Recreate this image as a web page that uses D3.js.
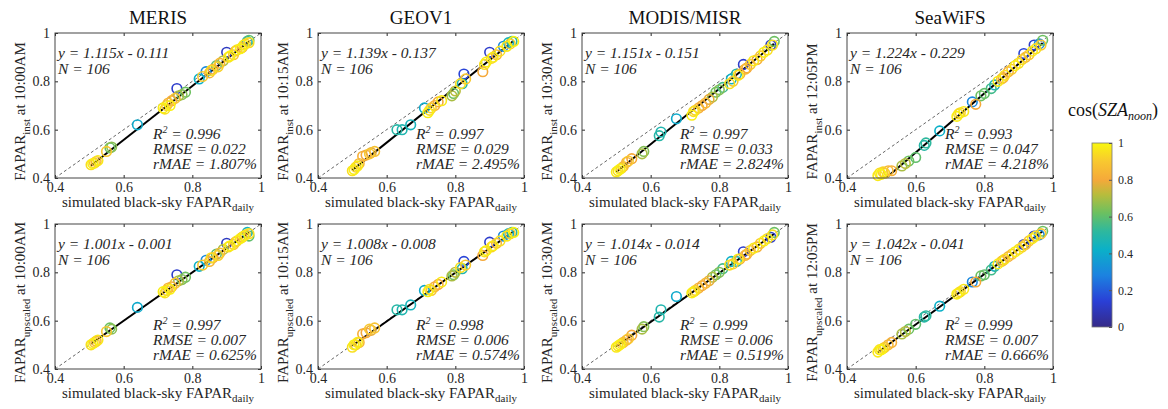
<!DOCTYPE html>
<html>
<head>
<meta charset="utf-8">
<script src="https://cdn.jsdelivr.net/npm/d3@7"></script>
<style>
  body { margin: 0; background: #fff; }
  svg { display: block; }
  svg text { font-family: "Liberation Serif", "DejaVu Serif", serif; }
</style>
</head>
<body>
<svg id="chart" width="1168" height="409"></svg>
<script>
"use strict";

// products and times
const products = ["MERIS", "GEOV1", "MODIS/MISR", "SeaWiFS"];
const passTimes = ["10:00AM", "10:15AM", "10:30AM", "12:05PM"];
const axisTicks = [0.4, 0.6, 0.8, 1];
const cbTicks = [0, 0.2, 0.4, 0.6, 0.8, 1];

// fit statistics, top row (inst) and bottom row (upscaled)
const instSlope = [1.115, 1.139, 1.151, 1.224];
const instIntercept = [-0.111, -0.137, -0.151, -0.229];
const instR2 = ["0.996", "0.997", "0.997", "0.993"];
const instRmse = ["0.022", "0.029", "0.033", "0.047"];
const instRmae = ["1.807", "2.495", "2.824", "4.218"];
const upSlope = [1.001, 1.008, 1.014, 1.042];
const upIntercept = [-0.001, -0.008, -0.014, -0.041];
const upR2 = ["0.997", "0.998", "0.999", "0.999"];
const upRmse = ["0.007", "0.006", "0.006", "0.007"];
const upRmae = ["0.625", "0.574", "0.519", "0.666"];
const sampleN = 106;

// MERIS
const merisX    = [0.505,0.51,0.515,0.52,0.525,0.55,0.56,0.565,0.64,0.715,0.72,0.725,0.73,0.735,0.74,0.75,0.755,0.76,0.77,0.78,0.82,0.83,0.84,0.85,0.855,0.86,0.87,0.875,0.88,0.89,0.90,0.905,0.91,0.92,0.925,0.93,0.94,0.945,0.95,0.955,0.96,0.965,0.965];
const merisCos  = [0.95,0.98,0.9,0.85,0.97,0.9,0.62,0.66,0.4,0.98,0.95,0.9,0.85,0.99,0.8,0.88,0.12,0.7,0.65,0.62,0.42,0.9,0.3,0.85,0.95,0.8,0.6,0.92,0.85,0.7,0.1,0.95,0.98,0.9,0.85,0.95,0.99,0.8,0.97,0.9,0.45,0.95,0.6];
const merisInst = [0.455,0.46,0.462,0.468,0.472,0.51,0.525,0.528,0.62,0.69,0.685,0.70,0.71,0.70,0.72,0.73,0.77,0.74,0.745,0.755,0.81,0.82,0.84,0.835,0.845,0.85,0.865,0.86,0.875,0.885,0.92,0.90,0.905,0.91,0.925,0.93,0.935,0.94,0.95,0.955,0.965,0.96,0.97];
const merisUp   = [0.50,0.505,0.51,0.515,0.52,0.555,0.57,0.565,0.655,0.72,0.715,0.725,0.735,0.73,0.74,0.755,0.79,0.765,0.77,0.78,0.825,0.83,0.85,0.845,0.86,0.86,0.875,0.87,0.88,0.895,0.92,0.905,0.91,0.915,0.925,0.93,0.94,0.945,0.95,0.955,0.965,0.96,0.95];

// GEOV1
const geovX    = [0.50,0.505,0.51,0.515,0.52,0.53,0.54,0.55,0.555,0.565,0.63,0.645,0.67,0.71,0.72,0.725,0.73,0.74,0.75,0.76,0.79,0.795,0.80,0.815,0.82,0.825,0.83,0.88,0.885,0.89,0.90,0.905,0.91,0.92,0.93,0.94,0.95,0.955,0.96,0.965,0.97];
const geovCos  = [0.95,0.98,0.92,0.97,0.85,0.82,0.8,0.9,0.78,0.88,0.5,0.48,0.45,0.4,0.98,0.95,0.9,0.82,0.8,0.97,0.7,0.62,0.72,0.95,0.48,0.15,0.9,0.8,0.95,0.98,0.12,0.92,0.97,0.85,0.95,0.3,0.97,0.45,0.9,0.5,0.99];
const geovInst = [0.43,0.435,0.445,0.45,0.46,0.49,0.495,0.50,0.505,0.51,0.60,0.60,0.62,0.69,0.67,0.68,0.69,0.70,0.715,0.72,0.74,0.75,0.76,0.79,0.79,0.83,0.81,0.84,0.87,0.88,0.92,0.895,0.90,0.91,0.925,0.945,0.945,0.96,0.955,0.965,0.965];
const geovUp   = [0.49,0.50,0.50,0.51,0.51,0.545,0.55,0.565,0.56,0.57,0.645,0.645,0.665,0.725,0.72,0.73,0.725,0.74,0.75,0.76,0.785,0.79,0.80,0.82,0.815,0.845,0.83,0.87,0.885,0.89,0.925,0.905,0.91,0.92,0.93,0.95,0.95,0.96,0.96,0.965,0.965];

// MODIS/MISR
const modisX    = [0.50,0.505,0.51,0.515,0.52,0.53,0.535,0.545,0.575,0.58,0.625,0.63,0.675,0.72,0.725,0.73,0.74,0.75,0.76,0.77,0.78,0.79,0.80,0.81,0.83,0.835,0.84,0.85,0.855,0.86,0.87,0.875,0.88,0.89,0.90,0.91,0.92,0.93,0.94,0.95,0.955,0.96];
const modisCos  = [0.97,0.95,0.99,0.92,0.85,0.82,0.9,0.8,0.7,0.65,0.5,0.48,0.4,0.98,0.95,0.92,0.82,0.8,0.85,0.78,0.7,0.62,0.65,0.55,0.95,0.42,0.9,0.5,0.97,0.82,0.12,0.85,0.8,0.9,0.97,0.82,0.9,0.98,0.95,0.12,0.95,0.62];
const modisInst = [0.425,0.43,0.436,0.44,0.447,0.465,0.47,0.48,0.50,0.51,0.575,0.59,0.645,0.66,0.675,0.68,0.69,0.70,0.71,0.725,0.735,0.755,0.765,0.775,0.79,0.81,0.80,0.83,0.825,0.83,0.87,0.85,0.855,0.87,0.885,0.89,0.905,0.92,0.93,0.95,0.95,0.965];
const modisUp   = [0.49,0.495,0.50,0.505,0.51,0.52,0.525,0.54,0.565,0.575,0.615,0.645,0.70,0.715,0.72,0.725,0.735,0.745,0.755,0.765,0.78,0.79,0.80,0.815,0.83,0.845,0.835,0.845,0.855,0.855,0.885,0.87,0.875,0.89,0.90,0.905,0.92,0.93,0.94,0.945,0.955,0.965];

// SeaWiFS
const seawifsX    = [0.49,0.495,0.50,0.505,0.51,0.52,0.53,0.56,0.57,0.58,0.60,0.625,0.63,0.67,0.72,0.725,0.73,0.74,0.765,0.775,0.79,0.80,0.82,0.83,0.84,0.85,0.855,0.86,0.87,0.88,0.89,0.90,0.91,0.915,0.92,0.93,0.94,0.945,0.95,0.96,0.965,0.97];
const seawifsCos  = [0.97,0.95,0.99,0.92,0.9,0.85,0.82,0.7,0.72,0.62,0.6,0.5,0.52,0.42,0.98,0.95,0.92,0.97,0.3,0.8,0.62,0.6,0.55,0.45,0.97,0.9,0.8,0.95,0.82,0.9,0.98,0.95,0.92,0.15,0.85,0.9,0.97,0.12,0.95,0.3,0.9,0.62];
const seawifsInst = [0.41,0.42,0.415,0.425,0.42,0.43,0.43,0.45,0.46,0.47,0.485,0.535,0.545,0.595,0.655,0.665,0.67,0.675,0.715,0.705,0.74,0.75,0.77,0.785,0.80,0.81,0.815,0.825,0.84,0.85,0.865,0.875,0.89,0.915,0.90,0.91,0.925,0.95,0.935,0.955,0.95,0.97];
const seawifsUp   = [0.47,0.48,0.48,0.485,0.49,0.50,0.51,0.545,0.555,0.565,0.585,0.615,0.62,0.66,0.71,0.715,0.72,0.73,0.76,0.76,0.785,0.79,0.81,0.825,0.835,0.845,0.85,0.855,0.865,0.875,0.885,0.895,0.905,0.915,0.915,0.93,0.94,0.95,0.95,0.955,0.96,0.97];

const dailyX = [merisX, geovX, modisX, seawifsX];
const cosNoon = [merisCos, geovCos, modisCos, seawifsCos];
const instY = [merisInst, geovInst, modisInst, seawifsInst];
const upY = [merisUp, geovUp, modisUp, seawifsUp];

// parula-like colormap
const parulaStops = [0, 0.14, 0.28, 0.42, 0.52, 0.62, 0.72, 0.8, 0.9, 1];
const parulaColors = ["#352a87", "#2a3fd6", "#1c82e0", "#0bb0c8", "#2eb89e", "#6cc060", "#b8bc3c", "#f5a93a", "#f8c830", "#f9f70e"];
const color = d3.scaleLinear().domain(parulaStops).range(parulaColors).interpolate(d3.interpolateRgb);

const svg = d3.select("#chart");
const W = 206, H = 145;
const lefts = [55, 318, 582, 847];
const tops = [33, 224];
const ink = "#262626";
const serif = "'Liberation Serif', 'DejaVu Serif', serif";

const x = d3.scaleLinear().domain([0.4, 1]).range([0, W]);
const y = d3.scaleLinear().domain([0.4, 1]).range([H, 0]);
const fmt = d => (d === 1 || d === 0) ? String(d) : d3.format(".1f")(d);

svg.append("defs").append("clipPath").attr("id", "plotclip")
  .append("rect").attr("width", W).attr("height", H);

function drawPanel(p, row) {
  const g = svg.append("g").attr("transform", "translate(" + lefts[p] + "," + tops[row] + ")");
  const ys = row === 0 ? instY[p] : upY[p];
  const slope = row === 0 ? instSlope[p] : upSlope[p];
  const icpt = row === 0 ? instIntercept[p] : upIntercept[p];
  const pts = dailyX[p].map((v, i) => ({x: v, y: ys[i], c: cosNoon[p][i]}));

  g.append("rect").attr("width", W).attr("height", H).attr("fill", "#fff");

  const inner = g.append("g").attr("clip-path", "url(#plotclip)");
  inner.append("line")
    .attr("x1", x(0.4)).attr("y1", y(0.4)).attr("x2", x(1)).attr("y2", y(1))
    .attr("stroke", "#555").attr("stroke-width", 0.9).attr("stroke-dasharray", "3,2.5");

  // yellow points drawn last so they sit on top, like the original
  pts.sort((a, b) => a.c - b.c);
  g.append("g").selectAll("circle").data(pts).enter().append("circle")
    .attr("cx", d => x(d.x)).attr("cy", d => y(d.y)).attr("r", 4.8)
    .attr("fill", "none").attr("stroke", d => color(d.c)).attr("stroke-width", 1.6);

  const xr = d3.extent(dailyX[p]);
  inner.append("line")
    .attr("x1", x(xr[0])).attr("y1", y(slope * xr[0] + icpt))
    .attr("x2", x(xr[1])).attr("y2", y(slope * xr[1] + icpt))
    .attr("stroke", "#000").attr("stroke-width", 2);

  // axes
  const ax = [
    g.append("g").attr("transform", "translate(0," + H + ")").call(d3.axisBottom(x).tickValues(axisTicks).tickSize(-3).tickPadding(4).tickFormat(fmt)),
    g.append("g").call(d3.axisLeft(y).tickValues(axisTicks).tickSize(-3).tickPadding(5).tickFormat(fmt)),
    g.append("g").call(d3.axisTop(x).tickValues(axisTicks).tickSize(-3).tickFormat("")),
    g.append("g").attr("transform", "translate(" + W + ",0)").call(d3.axisRight(y).tickValues(axisTicks).tickSize(-3).tickFormat(""))
  ];
  ax.forEach(a => {
    a.attr("font-family", serif).attr("font-size", 14);
    a.select(".domain").remove();
    a.selectAll("line").attr("stroke", ink);
    a.selectAll("text").attr("fill", ink);
  });
  g.append("rect").attr("width", W).attr("height", H)
    .attr("fill", "none").attr("stroke", "#444").attr("stroke-width", 1);

  // annotations
  const ann = g.append("g").attr("fill", ink).attr("font-family", serif)
    .attr("font-style", "italic").attr("font-size", 15.5);
  ann.append("text").attr("x", 3).attr("y", 25)
    .text("y = " + slope.toFixed(3) + "x - " + Math.abs(icpt).toFixed(3));
  ann.append("text").attr("x", 3).attr("y", 41).text("N = " + sampleN);
  const r2 = ann.append("text").attr("x", 98).attr("y", 106);
  r2.append("tspan").text("R");
  r2.append("tspan").attr("dy", -6).attr("font-size", 10).text("2");
  r2.append("tspan").attr("dy", 6).text(" = " + (row === 0 ? instR2[p] : upR2[p]));
  ann.append("text").attr("x", 98).attr("y", 121).text("RMSE = " + (row === 0 ? instRmse[p] : upRmse[p]));
  ann.append("text").attr("x", 98).attr("y", 136).text("rMAE = " + (row === 0 ? instRmae[p] : upRmae[p]) + "%");

  // x label
  const xl = g.append("text").attr("x", W / 2).attr("y", H + 29).attr("text-anchor", "middle")
    .attr("fill", ink).attr("font-size", 15);
  xl.append("tspan").text("simulated black-sky FAPAR");
  xl.append("tspan").attr("dy", 4).attr("font-size", 11).text("daily");

  // y label
  const yl = g.append("text").attr("text-anchor", "middle").attr("fill", ink).attr("font-size", 15)
    .attr("transform", "translate(-30," + (H / 2 + 6) + ") rotate(-90)");
  yl.append("tspan").text("FAPAR");
  yl.append("tspan").attr("dy", 5).attr("font-size", 11).text(row === 0 ? "inst" : "upscaled");
  yl.append("tspan").attr("dy", -5).text(" at " + passTimes[p]);

  if (row === 0) {
    g.append("text").attr("x", W / 2).attr("y", -9).attr("text-anchor", "middle")
      .attr("fill", "#111").attr("font-size", 19).text(products[p]);
  }
}

for (let p = 0; p < products.length; p++) {
  drawPanel(p, 0);
  drawPanel(p, 1);
}

// colorbar
const cbX = 1092, cbY = 143, cbW = 20, cbH = 184;
const grad = svg.select("defs").append("linearGradient").attr("id", "parula")
  .attr("x1", 0).attr("y1", 1).attr("x2", 0).attr("y2", 0);
grad.selectAll("stop").data(parulaStops).enter().append("stop")
  .attr("offset", d => d).attr("stop-color", (d, i) => parulaColors[i]);
svg.append("rect").attr("x", cbX).attr("y", cbY).attr("width", cbW).attr("height", cbH)
  .attr("fill", "url(#parula)").attr("stroke", "#777").attr("stroke-width", 0.8);
const cbScale = d3.scaleLinear().domain([0, 1]).range([cbY + cbH, cbY]);
const cbAxis = svg.append("g").attr("transform", "translate(" + (cbX + cbW) + ",0)")
  .call(d3.axisRight(cbScale).tickValues(cbTicks).tickSize(-3).tickPadding(6).tickFormat(fmt));
cbAxis.attr("font-family", serif).attr("font-size", 12);
cbAxis.select(".domain").remove();
cbAxis.selectAll("line").attr("stroke", "#555");
cbAxis.selectAll("text").attr("fill", ink);

const cbLabel = svg.append("text").attr("x", 1113).attr("y", 116).attr("text-anchor", "middle")
  .attr("fill", "#111").attr("font-size", 18);
cbLabel.append("tspan").text("cos(");
cbLabel.append("tspan").attr("font-style", "italic").text("SZA");
cbLabel.append("tspan").attr("dy", 4).attr("font-style", "italic").attr("font-size", 12).text("noon");
cbLabel.append("tspan").attr("dy", -4).text(")");
</script>
</body>
</html>
